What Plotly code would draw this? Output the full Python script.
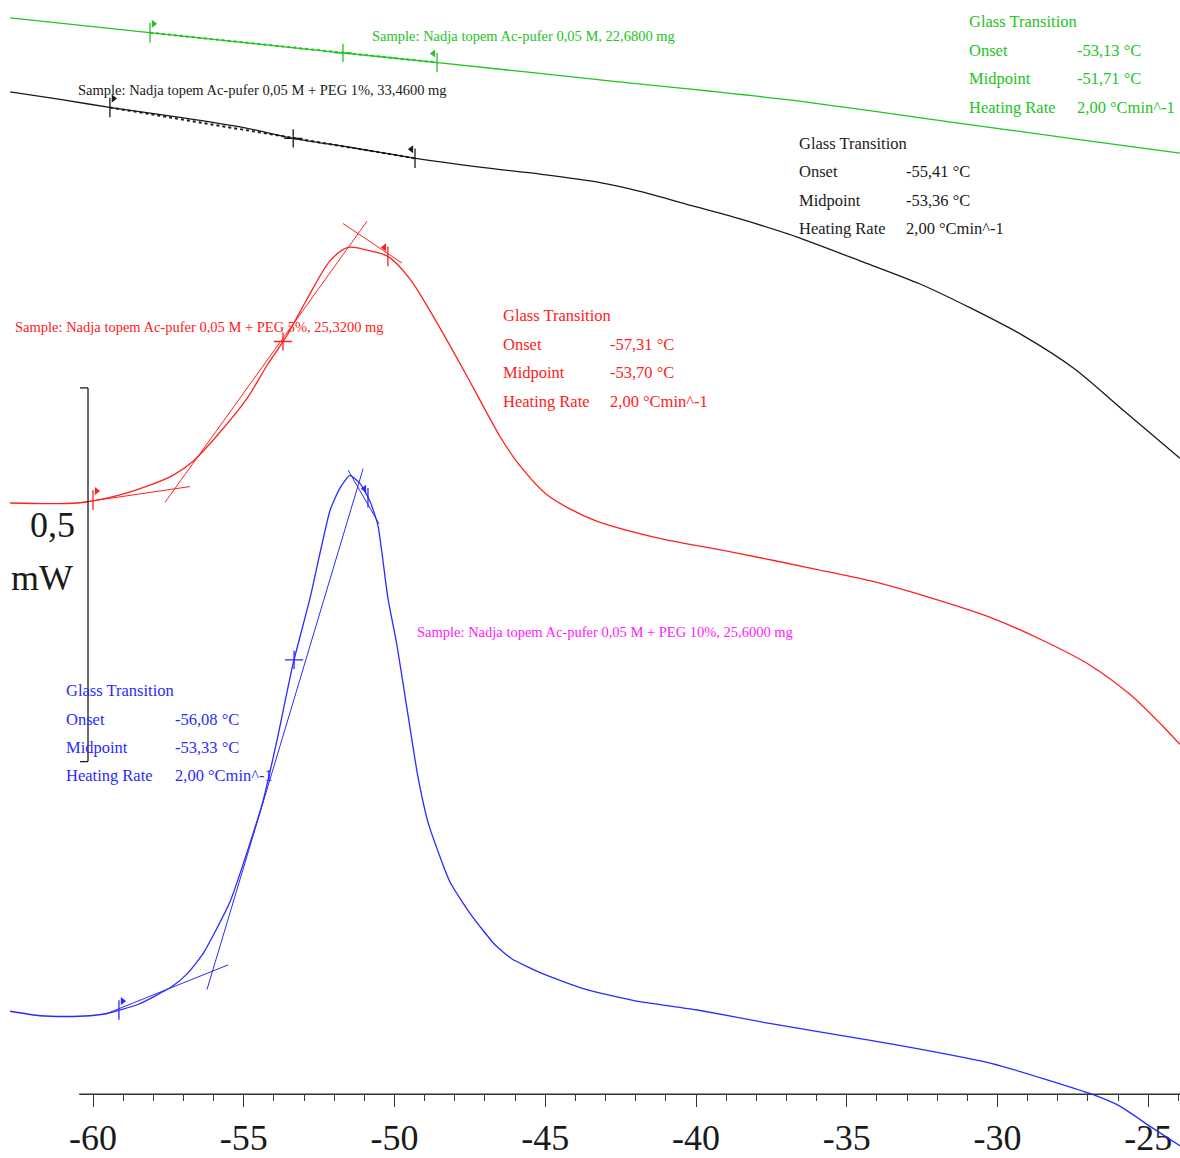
import numpy as np
import plotly.graph_objects as go

# ---------------------------------------------------------------------------
# DSC heating scans (temperature in °C, heat flow in mW, curves offset)
# ---------------------------------------------------------------------------
green_T = [-62.75, -58.28, -51.67, -48.49, -43.18, -37.05, -31.41, -27.23, -23.95]
green_mW = [1.440, 1.421, 1.393, 1.380, 1.357, 1.331, 1.300, 1.277, 1.259]

black_T = [-62.75, -61.09, -59.40, -57.11, -54.96, -53.37, -51.48, -49.29, -47.10,
           -45.17, -43.22, -41.86, -40.33, -38.54, -36.95, -34.56, -32.57, -30.85,
           -29.15, -27.46, -25.77, -23.95]
black_mW = [1.341, 1.331, 1.320, 1.307, 1.293, 1.279, 1.267, 1.252, 1.240,
            1.231, 1.220, 1.208, 1.191, 1.171, 1.151, 1.115, 1.084, 1.051,
            1.015, 0.971, 0.913, 0.851]

red_T = [-62.75, -60.53, -59.20, -58.11, -57.35, -56.68, -55.89, -54.89, -54.23,
         -53.57, -52.90, -52.14, -51.54, -50.88, -50.22, -49.49, -48.72, -47.60,
         -46.50, -45.90, -44.91, -43.38, -41.36, -38.64, -36.09, -34.23, -32.21,
         -30.18, -28.49, -26.97, -25.61, -24.58, -23.95]
red_mW = [0.791, 0.791, 0.801, 0.815, 0.828, 0.847, 0.881, 0.931, 0.975,
          1.015, 1.064, 1.115, 1.133, 1.129, 1.121, 1.091, 1.041, 0.961,
          0.880, 0.844, 0.801, 0.768, 0.745, 0.724, 0.703, 0.687, 0.664,
          0.637, 0.607, 0.575, 0.535, 0.495, 0.468]

blue_T = [-62.75, -61.76, -60.93, -60.10, -59.54, -58.51, -57.38, -56.88, -56.35,
          -55.46, -54.39, -53.90, -53.37, -52.80, -52.14, -51.81, -51.48, -51.14,
          -50.81, -50.55, -50.22, -49.92, -49.59, -49.22, -48.86, -48.16, -47.46,
          -46.67, -46.10, -45.07, -43.71, -42.02, -40.00, -37.61, -35.26, -33.07,
          -30.18, -28.49, -26.87, -25.94, -24.94, -23.95]
blue_mW = [0.111, 0.105, 0.104, 0.105, 0.108, 0.120, 0.144, 0.161, 0.188,
           0.257, 0.388, 0.473, 0.575, 0.664, 0.781, 0.811, 0.828, 0.817,
           0.793, 0.761, 0.664, 0.601, 0.517, 0.424, 0.360, 0.284, 0.240,
           0.200, 0.181, 0.161, 0.141, 0.125, 0.113, 0.095, 0.079, 0.064,
           0.041, 0.021, 0.000, -0.016, -0.043, -0.069]

# Tangent constructions of the glass-transition evaluation: [(T0, T1), (mW0, mW1)]
red_tangents = [
    ((-60.50, -56.78), (0.791, 0.813)),
    ((-57.61, -50.91), (0.792, 1.168)),
    ((-51.71, -49.75), (1.165, 1.112)),
]
blue_tangents = [
    ((-59.60, -55.52), (0.107, 0.173)),
    ((-56.22, -51.04), (0.140, 0.837)),
    ((-51.54, -50.51), (0.835, 0.763)),
]

# Evaluation limits (flag positions), °C
green_limits = [-58.11, -48.59]
black_limits = [-59.44, -49.32]
red_limits = [-60.00, -50.22]
blue_limits = [-59.14, -50.88]

# Glass transition results
samples = ["Nadja topem Ac-pufer 0,05 M, 22,6800 mg",
           "Nadja topem Ac-pufer 0,05 M + PEG 1%, 33,4600 mg",
           "Nadja topem Ac-pufer 0,05 M + PEG 5%, 25,3200 mg",
           "Nadja topem Ac-pufer 0,05 M + PEG 10%, 25,6000 mg"]
onsets = [-53.13, -55.41, -57.31, -56.08]
midpoints = [-51.71, -53.36, -53.70, -53.33]
heating_rates = [2.00, 2.00, 2.00, 2.00]

x_ticks = [-60, -55, -50, -45, -40, -35, -30, -25]
x_minor = [t for t in range(-60, -23) if t % 5 != 0]
scale_bar_mW = 0.5
scale_bar_bottom = 0.445

# ---------------------------------------------------------------------------
W, H = 1180, 1158
FONT = "Liberation Serif"
GREEN = "#22c422"
BLACK = "#1a1a1a"
RED = "#ff2020"
BLUE = "#2a2aff"
MAGENTA = "#ff20ff"

X_RANGE = [-63.085, -23.947]
Y_RANGE = [-0.08, 1.464]


def paper(px, py):
    return px / W, 1 - py / H


fig = go.Figure()

# (T, mW, colour, flag limits, straight baseline between limits, smoothing)
series = [
    (green_T, green_mW, GREEN, green_limits, True, 0.8),
    (black_T, black_mW, BLACK, black_limits, True, 0.8),
    (red_T, red_mW, RED, red_limits, False, 0.8),
    (blue_T, blue_mW, BLUE, blue_limits, False, 0.5),
]

for (T, y, color, limits, baseline, smooth), mid in zip(series, midpoints):
    fig.add_trace(go.Scatter(x=T, y=y, mode="lines",
                             line=dict(color=color, width=1.3, shape="spline",
                                       smoothing=smooth),
                             hoverinfo="skip", showlegend=False))
    ly = np.interp(limits, T, y)
    if baseline:
        # fitted baseline across the evaluation range
        fig.add_trace(go.Scatter(x=limits, y=ly, mode="lines",
                                 line=dict(color=color, width=2, dash="dot"),
                                 hoverinfo="skip", showlegend=False))
    # limit flags
    fig.add_trace(go.Scatter(x=limits, y=ly, mode="markers",
                             marker=dict(symbol="line-ns", size=14,
                                         line=dict(color=color, width=1.3)),
                             hoverinfo="skip", showlegend=False))
    fig.add_trace(go.Scatter(x=[limits[0] + 0.12, limits[1] - 0.12],
                             y=[ly[0] + 0.012, ly[1] + 0.012], mode="markers",
                             marker=dict(symbol=["triangle-right", "triangle-left"],
                                         size=7, color=color),
                             hoverinfo="skip", showlegend=False))
    # midpoint cross
    fig.add_trace(go.Scatter(x=[mid], y=[np.interp(mid, T, y)], mode="markers",
                             marker=dict(symbol="cross-thin", size=13,
                                         line=dict(color=color, width=1.3)),
                             hoverinfo="skip", showlegend=False))

for tangents, color in ((red_tangents, RED), (blue_tangents, BLUE)):
    for tx, ty in tangents:
        fig.add_trace(go.Scatter(x=list(tx), y=list(ty), mode="lines",
                                 line=dict(color=color, width=1),
                                 hoverinfo="skip", showlegend=False))

# ---------------------------------------------------------------------------
annotations = []


def label(text, px, py, color, size, anchor="left"):
    x, y = paper(px, py)
    annotations.append(dict(text=text, x=x, y=y, xref="paper", yref="paper",
                            xanchor=anchor, yanchor="middle", showarrow=False,
                            font=dict(family=FONT, size=size, color=color)))


def fmt(v):
    return f"{v:.2f}".replace(".", ",")


sample_pos = [(370, 36), (76, 90), (13, 328), (415, 634)]
sample_colors = [GREEN, BLACK, RED, MAGENTA]
for s, (px, py), c in zip(samples, sample_pos, sample_colors):
    label("Sample: " + s, px, py, c, 14.5)

box_pos = [(967, 1075, 22), (797, 904, 144), (501, 608, 317), (64, 173, 693)]
box_colors = [GREEN, BLACK, RED, BLUE]
for (lx, vx, top), c, on, mid, hr in zip(box_pos, box_colors, onsets, midpoints,
                                         heating_rates):
    label("Glass Transition", lx, top, c, 16.5)
    rows = [("Onset", fmt(on) + " °C"), ("Midpoint", fmt(mid) + " °C"),
            ("Heating Rate", fmt(hr) + " °Cmin^-1")]
    for i, (name, val) in enumerate(rows):
        ry = top + 28.5 * (i + 1)
        label(name, lx, ry, c, 16.5)
        label(val, vx, ry, c, 16.5)

label("0,5", 52, 527, BLACK, 36, anchor="center")
label("mW", 42, 580, BLACK, 36, anchor="center")

# Scale bar and temperature axis line
bar_x = -60.166
cap_x = -60.43
bar_top = scale_bar_bottom + scale_bar_mW
shapes = [
    dict(type="line", xref="x", yref="y", x0=bar_x, x1=bar_x,
         y0=scale_bar_bottom, y1=bar_top, line=dict(color=BLACK, width=1.3)),
    dict(type="line", xref="x", yref="y", x0=cap_x, x1=bar_x,
         y0=bar_top, y1=bar_top, line=dict(color=BLACK, width=1.3)),
    dict(type="line", xref="x", yref="y", x0=cap_x, x1=bar_x,
         y0=scale_bar_bottom, y1=scale_bar_bottom, line=dict(color=BLACK, width=1.3)),
    dict(type="line", xref="x", yref="y", x0=-60.46, x1=X_RANGE[1],
         y0=0, y1=0, line=dict(color="#333333", width=1.5), layer="below"),
]

axis_pos = (Y_RANGE[1] - 0) / (Y_RANGE[1] - Y_RANGE[0])
fig.update_layout(
    width=W, height=H,
    margin=dict(l=0, r=0, t=0, b=0),
    paper_bgcolor="white", plot_bgcolor="white",
    showlegend=False,
    annotations=annotations,
    shapes=shapes,
    xaxis=dict(range=X_RANGE, anchor="free", position=1 - axis_pos,
               tickmode="array", tickvals=x_ticks,
               ticktext=[str(t) for t in x_ticks],
               ticks="outside", ticklen=12, tickwidth=1.3, tickcolor="#333333",
               tickfont=dict(family=FONT, size=36, color=BLACK),
               minor=dict(tickmode="array", tickvals=x_minor, ticks="outside",
                          ticklen=6, tickwidth=1, tickcolor="#333333"),
               showgrid=False, zeroline=False, showline=False,
               layer="below traces"),
    yaxis=dict(range=Y_RANGE, visible=False, showgrid=False, zeroline=False),
)

fig.write_html("out.html")
